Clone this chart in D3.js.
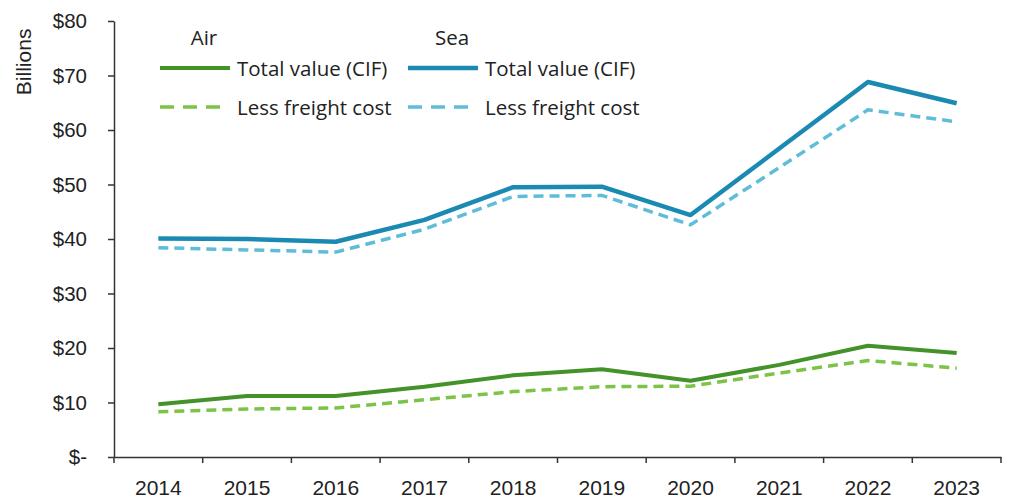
<!DOCTYPE html>
<html>
<head>
<meta charset="utf-8">
<script src="https://cdn.jsdelivr.net/npm/d3@7"></script>
<style>
  body { margin: 0; background: #fff; }
  svg { display: block; }
</style>
</head>
<body>
<div id="chart"></div>
<script>
const years = [2014, 2015, 2016, 2017, 2018, 2019, 2020, 2021, 2022, 2023];
const airTotal = [9.7, 11.2, 11.2, 12.9, 15.0, 16.1, 14.0, 16.9, 20.4, 19.1];
const airLess = [8.3, 8.8, 9.0, 10.5, 12.0, 12.9, 13.0, 15.4, 17.7, 16.3];
const seaTotal = [40.1, 40.0, 39.5, 43.5, 49.5, 49.6, 44.4, 56.6, 68.8, 64.9];
const seaLess = [38.4, 38.0, 37.6, 41.8, 47.8, 48.0, 42.6, 53.1, 63.7, 61.5];
const yTicks = [0, 10, 20, 30, 40, 50, 60, 70, 80];

const series = [
    { name: "Air total", values: airTotal, color: "#43922a", width: 4, dash: null },
    { name: "Air less", values: airLess, color: "#7cc447", width: 3.5, dash: "10,6" },
    { name: "Sea total", values: seaTotal, color: "#1a8ab3", width: 4.5, dash: null },
    { name: "Sea less", values: seaLess, color: "#5fbdd8", width: 3.5, dash: "10,6" }
];

const W = 1025, H = 502;
const margin = { left: 114, right: 24, top: 21, bottom: 45 };

const svg = d3.select("#chart").append("svg")
    .attr("width", W)
    .attr("height", H);

const x = d3.scaleBand()
    .domain(years)
    .range([margin.left, W - margin.right])
    .padding(0);

const y = d3.scaleLinear()
    .domain([0, 80])
    .range([H - margin.bottom, margin.top]);

const tickFont = "'Liberation Sans', Arial, sans-serif";

// y axis
const yAxis = svg.append("g")
    .attr("transform", `translate(${margin.left},0)`)
    .call(d3.axisLeft(y).tickValues(yTicks).tickSize(6).tickSizeOuter(0)
        .tickFormat(d => d === 0 ? "$-" : "$" + d));
yAxis.select(".domain").attr("stroke", "#333").attr("stroke-width", 1.5);
yAxis.selectAll(".tick line").attr("stroke", "#333").attr("stroke-width", 1.5);
yAxis.selectAll(".tick text")
    .attr("x", -27)
    .attr("font-family", tickFont)
    .attr("font-size", 20.5)
    .attr("fill", "#222");

// x axis
const xAxis = svg.append("g")
    .attr("transform", `translate(0,${y(0)})`)
    .call(d3.axisBottom(x).tickSize(0).tickSizeOuter(0));
xAxis.select(".domain").attr("stroke", "#333").attr("stroke-width", 1.5);
xAxis.selectAll(".tick text")
    .attr("y", 23)
    .attr("font-family", tickFont)
    .attr("font-size", 21)
    .attr("fill", "#222");

const bounds = years.map(d => x(d)).concat([x(years[years.length - 1]) + x.bandwidth()]);
xAxis.selectAll(".bound")
    .data(bounds)
    .enter()
    .append("line")
    .attr("class", "bound")
    .attr("x1", d => d)
    .attr("x2", d => d)
    .attr("y1", 0)
    .attr("y2", 6)
    .attr("stroke", "#333")
    .attr("stroke-width", 1.5);

// y title
svg.append("text")
    .attr("transform", `translate(31,${y(72.5)}) rotate(-90)`)
    .attr("text-anchor", "middle")
    .attr("font-family", tickFont)
    .attr("font-size", 21)
    .attr("fill", "#222")
    .text("Billions");

// lines
const line = d3.line()
    .x((d, i) => x(years[i]) + x.bandwidth() / 2)
    .y(d => y(d));

svg.append("g").selectAll("path")
    .data(series)
    .enter()
    .append("path")
    .attr("d", d => line(d.values))
    .attr("fill", "none")
    .attr("stroke", d => d.color)
    .attr("stroke-width", d => d.width)
    .attr("stroke-dasharray", d => d.dash)
    .attr("stroke-linejoin", "round");

// legend
const legendFont = "'Open Sans', 'Noto Sans', sans-serif";
const legend = svg.append("g");
const groups = [
    { title: "Air", x: 160, items: [series[0], series[1]] },
    { title: "Sea", x: 408, items: [series[2], series[3]] }
];
const labels = ["Total value (CIF)", "Less freight cost"];

groups.forEach(gr => {
    legend.append("text")
        .attr("x", gr.x + 44)
        .attr("y", 45)
        .attr("text-anchor", "middle")
        .attr("font-family", legendFont)
        .attr("font-size", 20.5)
        .attr("fill", "#222")
        .text(gr.title);
    gr.items.forEach((s, i) => {
        const ly = 68 + i * 39;
        legend.append("line")
            .attr("x1", gr.x)
            .attr("x2", gr.x + (s.dash ? 62 : 70))
            .attr("y1", ly)
            .attr("y2", ly)
            .attr("stroke", s.color)
            .attr("stroke-width", s.width)
            .attr("stroke-dasharray", s.dash ? "14,9" : null);
        legend.append("text")
            .attr("x", gr.x + 77)
            .attr("y", ly + 8)
            .attr("font-family", legendFont)
            .attr("font-size", 20.5)
            .attr("fill", "#222")
            .text(labels[i]);
    });
});
</script>
</body>
</html>
